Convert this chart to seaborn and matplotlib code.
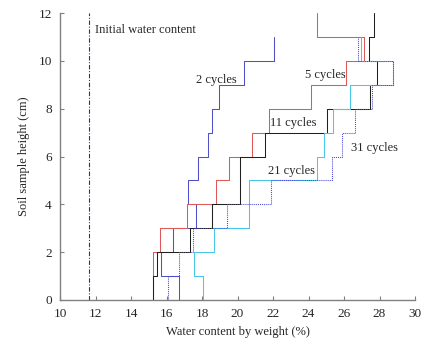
import numpy as np
import pandas as pd
import matplotlib
matplotlib.use("Agg")
import matplotlib.pyplot as plt
import seaborn as sns

# water content (%) of each 1 cm layer, from the bottom (0-1 cm) upward
cycles_2 = [16.72, 15.69, 16.38, 17.66, 17.2, 17.77, 18.34, 18.56, 18.96, 20.37, 22.06]
cycles_5 = [15.22, 15.22, 15.63, 17.14, 18.77, 19.5, 20.82, 21.77, 24.14, 26.1, 27.13, 24.48]
cycles_11 = [15.22, 15.44, 17.3, 18.54, 20.14, 20.14, 21.55, 25.02, 27.46, 27.84, 27.41, 27.69]
cycles_21 = [18.04, 17.57, 18.69, 20.62, 20.62, 24.46, 24.89, 25.4, 26.34, 28.74, 26.98]
cycles_31 = [16.07, 16.72, 17.51, 19.42, 21.87, 25.3, 25.87, 26.62, 27.6, 28.78, 26.8]
initial_wc = 11.62
sample_height = 12

series_names = ["2 cycles", "5 cycles", "11 cycles", "21 cycles", "31 cycles"]
series_vals = [cycles_2, cycles_5, cycles_11, cycles_21, cycles_31]
colors = {"2 cycles": "#5050c8", "5 cycles": "#e05858", "11 cycles": "#202020",
          "21 cycles": "#48c8e8", "31 cycles": "#4848d8"}

# turn layer values into step profiles (vertical segment per layer)
rows = []
for name, vals in zip(series_names, series_vals):
    order = 0
    for i, w in enumerate(vals):
        rows.append({"series": name, "w": w, "h": i, "o": order})
        rows.append({"series": name, "w": w, "h": i + 1, "o": order + 1})
        order += 2
df = pd.DataFrame(rows)

sns.set_style("ticks")
plt.rcParams['font.family'] = ['Liberation Serif', 'DejaVu Serif']

fig = plt.figure(figsize=(4.32, 3.5), dpi=100)
ax = fig.add_axes([60 / 432, 50 / 350, 355 / 432, 287 / 350])

for name in series_names:
    sub = df[df["series"] == name].sort_values("o")
    sns.lineplot(data=sub, x="w", y="h", sort=False, estimator=None, ax=ax,
                 color=colors[name], lw=0.75,
                 linestyle=(0, (1, 1)) if name == "31 cycles" else "-")

init = pd.DataFrame({"w": [initial_wc, initial_wc], "h": [0, sample_height]})
sns.lineplot(data=init, x="w", y="h", sort=False, estimator=None, ax=ax,
             color="#303090", lw=0.8, linestyle=(0, (4, 1.5, 1, 1.5)))

# labels
fs = 9
ax.text(11.95, 11.3, "Initial water content", fontsize=fs, va="center", ha="left")
ax.text(17.65, 9.2, "2 cycles", fontsize=fs, va="center", ha="left")
ax.text(23.8, 9.4, "5 cycles", fontsize=fs, va="center", ha="left")
ax.text(21.85, 7.4, "11 cycles", fontsize=fs, va="center", ha="left")
ax.text(21.7, 5.4, "21 cycles", fontsize=fs, va="center", ha="left")
ax.text(26.4, 6.35, "31 cycles", fontsize=fs, va="center", ha="left")

ax.set_xlim(10, 30)
ax.set_ylim(0, 12)
ax.set_xticks(np.arange(10, 31, 2))
ax.set_yticks(np.arange(0, 13, 2))
ax.tick_params(direction="in", length=3, width=0.8, color="#808080",
               labelsize=9.5, pad=6)
for s in ["left", "bottom"]:
    ax.spines[s].set_color("#808080")
    ax.spines[s].set_linewidth(1.0)
sns.despine(ax=ax)
ax.set_xlabel("Water content by weight (%)", fontsize=fs, labelpad=4)
ax.set_ylabel("Soil sample height (cm)", fontsize=fs, labelpad=6)

fig.savefig("out.png", dpi=100)
